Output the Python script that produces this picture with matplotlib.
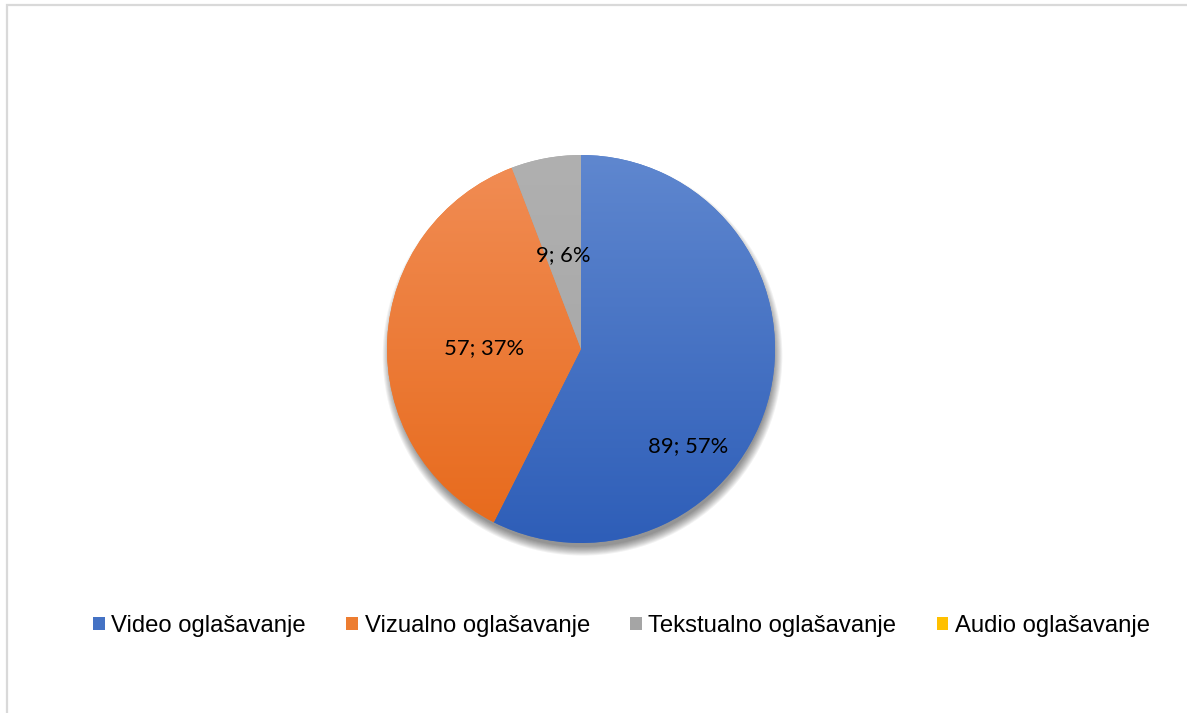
import numpy as np
import matplotlib
matplotlib.use("Agg")
import matplotlib.pyplot as plt
from matplotlib.patches import Circle, Rectangle
from matplotlib.colors import LinearSegmentedColormap

# data
categories = ["Video oglašavanje", "Vizualno oglašavanje",
              "Tekstualno oglašavanje", "Audio oglašavanje"]
counts = [89, 57, 9, 0]
base_colors = ["#4472C4", "#ED7D31", "#A5A5A5", "#FFC000"]
# top / bottom shades of the gradient fill
grad_top = ["#5F87CF", "#F18D55", "#B0B0B0", "#FFCC33"]
grad_bottom = ["#2E5EB8", "#E7691A", "#A3A3A3", "#F0B400"]

W, H = 1187, 713
fig = plt.figure(figsize=(W / 100, H / 100), dpi=100)

# chart border (only left and top visible)
fig.patches.append(Rectangle((6.5 / W, -0.1), 1.2, (H - 5.5) / H + 0.1,
                             transform=fig.transFigure, fill=False,
                             edgecolor="#D9D9D9", linewidth=1.6))

cx, cy, r = 581, 349, 194
lim = 1.15
half = r * lim
ax = fig.add_axes([(cx - half) / W, (H - cy - half) / H, 2 * half / W, 2 * half / H])
ax.set_xlim(-lim, lim)
ax.set_ylim(-lim, lim)
ax.set_aspect("equal")
ax.axis("off")

# soft shadow under the pie
for rr in np.linspace(0.985, 1.03, 10):
    ax.add_patch(Circle((0.008, -0.035), rr, color="black", alpha=0.05,
                        linewidth=0, zorder=0))

wedges, _ = ax.pie(counts, colors=base_colors, startangle=90, counterclock=False,
                   radius=1.0, wedgeprops=dict(linewidth=0))

# gradient fill clipped to each wedge
g = np.linspace(1, 0, 256).reshape(-1, 1)
for w, c0, c1 in zip(wedges, grad_top, grad_bottom):
    w.set_zorder(1)
    cmap = LinearSegmentedColormap.from_list("g", [c1, c0])
    im = ax.imshow(g, cmap=cmap, extent=[-1, 1, -1, 1], aspect="auto",
                   interpolation="bilinear", zorder=2, vmin=0, vmax=1)
    im.set_clip_path(w)
ax.set_xlim(-lim, lim)
ax.set_ylim(-lim, lim)

total = sum(counts)
label_pos = [(0.55, -0.50), (-0.50, 0.005), (-0.092, 0.485), None]
for v, pos in zip(counts, label_pos):
    if v == 0 or pos is None:
        continue
    ax.text(pos[0], pos[1], f"{v}; {round(100 * v / total)}%", ha="center",
            va="center", fontsize=15.8, family="Lato", color="black", zorder=5)

handles = [Rectangle((0, 0), 1, 1, facecolor=c, edgecolor="none") for c in base_colors]
fig.legend(handles, categories, loc="center", bbox_to_anchor=(621.5 / W, 1 - 626 / H),
           ncol=4, frameon=False, prop=dict(family="Liberation Sans", size=17.2),
           handlelength=0.5, handleheight=0.5, handletextpad=0.27,
           columnspacing=1.68, borderpad=0)

fig.savefig("out.png", dpi=100)
